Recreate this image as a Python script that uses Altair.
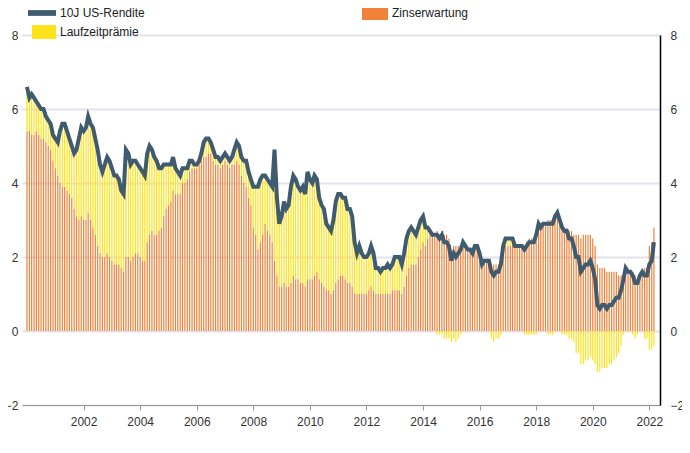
import altair as alt
import pandas as pd

# 10J US-Rendite, monatlich ab Jan 2000
rendite = [
    6.6, 6.3, 6.4, 6.3, 6.2, 6.1, 6.0, 6.0, 5.8, 5.7, 5.6, 5.3,
    5.2, 5.1, 5.4, 5.6, 5.6, 5.4, 5.2, 5.0, 4.8, 4.9, 5.2, 5.5,
    5.4, 5.5, 5.8, 5.6, 5.5, 5.2, 4.9, 4.5, 4.3, 4.5, 4.7, 4.6,
    4.4, 4.2, 4.2, 4.1, 3.8, 3.7, 4.9, 4.8, 4.5, 4.6, 4.6, 4.5,
    4.4, 4.3, 4.2, 4.8, 5.0, 4.9, 4.7, 4.6, 4.4, 4.4, 4.5, 4.5,
    4.5, 4.5, 4.7, 4.4, 4.3, 4.2, 4.4, 4.4, 4.4, 4.6, 4.6, 4.5,
    4.5, 4.6, 4.8, 5.1, 5.2, 5.2, 5.1, 4.9, 4.7, 4.7, 4.6, 4.7,
    4.8, 4.7, 4.6, 4.7, 4.9, 5.1, 5.0, 4.7, 4.6, 4.6, 4.3, 4.1,
    3.9, 3.9, 3.9, 4.1, 4.2, 4.2, 4.1, 4.0, 3.9, 4.9, 3.6, 2.9,
    3.1, 3.5, 3.3, 3.4, 3.9, 4.2, 4.1, 3.9, 3.8, 3.9, 3.7, 4.3,
    4.1, 4.0, 4.2, 4.1, 3.6, 3.4, 3.3, 2.9, 2.8, 2.7, 3.0, 3.5,
    3.7, 3.7, 3.6, 3.6, 3.3, 3.3, 3.1, 2.4, 2.1, 2.3, 2.1, 2.0,
    2.0, 2.1, 2.3, 2.1, 1.7, 1.7, 1.6, 1.7, 1.7, 1.8, 1.7, 1.8,
    2.0, 2.0, 2.0, 1.8, 2.1, 2.5, 2.7, 2.8, 2.7, 2.6, 2.8, 3.0,
    3.1, 2.8, 2.8, 2.7, 2.6, 2.6, 2.6, 2.5, 2.6, 2.4, 2.4, 2.3,
    1.9, 2.1, 2.0, 2.1, 2.2, 2.4, 2.3, 2.2, 2.2, 2.1, 2.3, 2.3,
    2.1, 1.8, 1.9, 1.9, 1.9, 1.6, 1.5, 1.6, 1.6, 1.8, 2.3, 2.5,
    2.5, 2.5, 2.5, 2.3, 2.3, 2.3, 2.3, 2.2, 2.3, 2.4, 2.4, 2.4,
    2.6, 2.9, 2.8, 2.9, 2.9, 2.9, 2.9, 2.9, 3.1, 3.2, 3.0, 2.8,
    2.7, 2.7, 2.5, 2.5, 2.3, 2.0, 2.0, 1.6, 1.7, 1.8, 1.8, 1.9,
    1.7, 1.4, 0.7, 0.6, 0.7, 0.7, 0.6, 0.7, 0.7, 0.8, 0.9, 0.9,
    1.1, 1.4, 1.7, 1.6, 1.6, 1.5, 1.3, 1.3, 1.5, 1.6, 1.5, 1.5,
    1.8, 1.9, 2.4,
]

# Zinserwartung
erwartung = [
    5.4, 5.4, 5.3, 5.3, 5.4, 5.3, 5.2, 5.2, 5.1, 5.0, 4.9, 4.6,
    4.4, 4.2, 4.0, 3.9, 3.9, 3.8, 3.7, 3.6, 3.3, 3.1, 3.0, 3.1,
    3.0, 3.0, 3.2, 3.0, 2.8, 2.6, 2.3, 2.1, 2.0, 2.0, 2.1, 2.0,
    1.9, 1.8, 1.8, 1.8, 1.7, 1.6, 2.0, 2.0, 1.9, 2.0, 2.1, 2.1,
    2.0, 1.9, 1.9, 2.4, 2.6, 2.7, 2.6, 2.6, 2.7, 2.8, 3.1, 3.3,
    3.4, 3.5, 3.8, 3.7, 3.7, 3.7, 4.0, 4.0, 4.1, 4.3, 4.4, 4.4,
    4.4, 4.5, 4.6, 4.7, 4.7, 4.8, 4.8, 4.6, 4.5, 4.5, 4.4, 4.5,
    4.6, 4.5, 4.4, 4.5, 4.5, 4.6, 4.5, 4.2, 4.0, 3.9, 3.6, 3.4,
    2.8, 2.6, 2.2, 2.4, 2.6, 2.9, 2.7, 2.6, 2.4, 1.9, 1.5, 1.2,
    1.2, 1.3, 1.2, 1.2, 1.3, 1.5, 1.4, 1.4, 1.3, 1.3, 1.2, 1.4,
    1.4, 1.4, 1.5, 1.6, 1.4, 1.3, 1.2, 1.1, 1.1, 1.0, 1.1, 1.3,
    1.4, 1.5, 1.5, 1.4, 1.3, 1.3, 1.2, 1.0, 1.0, 1.0, 1.0, 1.0,
    1.0, 1.1, 1.2, 1.1, 1.0, 1.0, 1.0, 1.0, 1.0, 1.0, 1.0, 1.1,
    1.1, 1.1, 1.1, 1.0, 1.2, 1.5, 1.7, 1.8, 1.8, 1.8, 2.0, 2.2,
    2.4, 2.3, 2.5, 2.6, 2.6, 2.6, 2.7, 2.6, 2.7, 2.6, 2.6, 2.5,
    2.2, 2.3, 2.3, 2.3, 2.3, 2.4, 2.3, 2.2, 2.2, 2.1, 2.2, 2.2,
    2.0, 1.8, 1.9, 1.9, 1.9, 1.8, 1.8, 1.8, 1.8, 1.9, 2.2, 2.3,
    2.3, 2.3, 2.4, 2.3, 2.3, 2.3, 2.3, 2.3, 2.4, 2.5, 2.5, 2.5,
    2.7, 2.8, 2.8, 2.9, 2.9, 3.0, 3.0, 3.0, 3.1, 3.1, 3.0, 2.9,
    2.8, 2.8, 2.7, 2.7, 2.6, 2.6, 2.6, 2.5, 2.6, 2.6, 2.6, 2.6,
    2.5, 2.3, 1.8, 1.7, 1.7, 1.7, 1.6, 1.6, 1.6, 1.6, 1.6, 1.5,
    1.5, 1.5, 1.6, 1.6, 1.6, 1.6, 1.5, 1.4, 1.5, 1.6, 1.7, 1.7,
    2.3, 2.4, 2.8,
]

datum = pd.date_range("2000-01-01", periods=len(rendite), freq="MS")
line_df = pd.DataFrame({"datum": datum, "wert": rendite})
bars_df = pd.concat([
    pd.DataFrame({"datum": datum, "wert": erwartung, "reihe": "Zinserwartung", "ord": 0}),
    pd.DataFrame({"datum": datum,
                  "wert": [round(r - e, 2) for r, e in zip(rendite, erwartung)],
                  "reihe": "Laufzeitprämie", "ord": 1}),
])

y_scale = alt.Scale(domain=[-2, 8], nice=False)
x_scale = alt.Scale(domain=["2000-01-01", "2022-03-15"])
x_axis = alt.Axis(title=None, format="%Y", values=[f"{y}-01-01" for y in range(2002, 2023, 2)],
                  grid=False, domainColor="#999", tickColor="#999", labelColor="#333",
                  labelFontSize=12, labelPadding=6)

bars = alt.Chart(bars_df).mark_bar(size=1.2).encode(
    x=alt.X("datum:T", scale=x_scale, axis=x_axis),
    y=alt.Y("wert:Q", stack="zero", scale=y_scale,
            axis=alt.Axis(title=None, values=[-2, 0, 2, 4, 6, 8], grid=True, gridColor="#e3e3ec",
                          gridWidth=2, domain=False, ticks=False, labelFontSize=12,
                          labelColor="#333", labelPadding=4)),
    color=alt.Color("reihe:N", scale=alt.Scale(domain=["Zinserwartung", "Laufzeitprämie"],
                                              range=["#f0823a", "#ffe21a"]), legend=None),
    order=alt.Order("ord:Q"),
)

line = alt.Chart(line_df).mark_line(color="#3f5b70", strokeWidth=4).encode(
    x=alt.X("datum:T", scale=x_scale, axis=x_axis),
    y=alt.Y("wert:Q", scale=y_scale,
            axis=alt.Axis(title=None, orient="right", values=[-2, 0, 2, 4, 6, 8], grid=False,
                          domainColor="#000", domainWidth=1.5, ticks=False, labelFontSize=12,
                          labelColor="#333", labelPadding=10)),
)

legend_df = pd.DataFrame({
    "label": ["10J US-Rendite", "Zinserwartung", "Laufzeitprämie"],
    "px": [38, 370, 38], "py": [-22, -22, -3],
})
leg_text = alt.Chart(legend_df).mark_text(align="left", baseline="middle", fontSize=12,
                                          color="#222").encode(
    x=alt.X("px:Q", scale=None), y=alt.Y("py:Q", scale=None), text="label:N")
leg_line = alt.Chart(legend_df).mark_rule(color="#3f5b70", strokeWidth=5).encode(
    x=alt.value(6), x2=alt.value(34), y=alt.value(-22))
leg_orange = alt.Chart(legend_df).mark_rect(color="#f0823a").encode(
    x=alt.value(340), x2=alt.value(366), y=alt.value(-29), y2=alt.value(-15))
leg_yellow = alt.Chart(legend_df).mark_rect(color="#ffe21a").encode(
    x=alt.value(10), x2=alt.value(34), y=alt.value(-10), y2=alt.value(4))

chart = alt.layer(bars, line, leg_line, leg_orange, leg_yellow, leg_text).resolve_axis(
    y="independent"
).resolve_scale(y="shared").properties(
    width=638, height=370,
    autosize=alt.AutoSizeParams(type="none"),
    padding={"left": 14, "top": 27, "right": 22, "bottom": 40},
).configure_view(stroke=None).configure_axis(labelFont="Liberation Sans").configure_text(
    font="Liberation Sans")

chart.save("out.html", embed_options={"renderer": "svg", "actions": False})
